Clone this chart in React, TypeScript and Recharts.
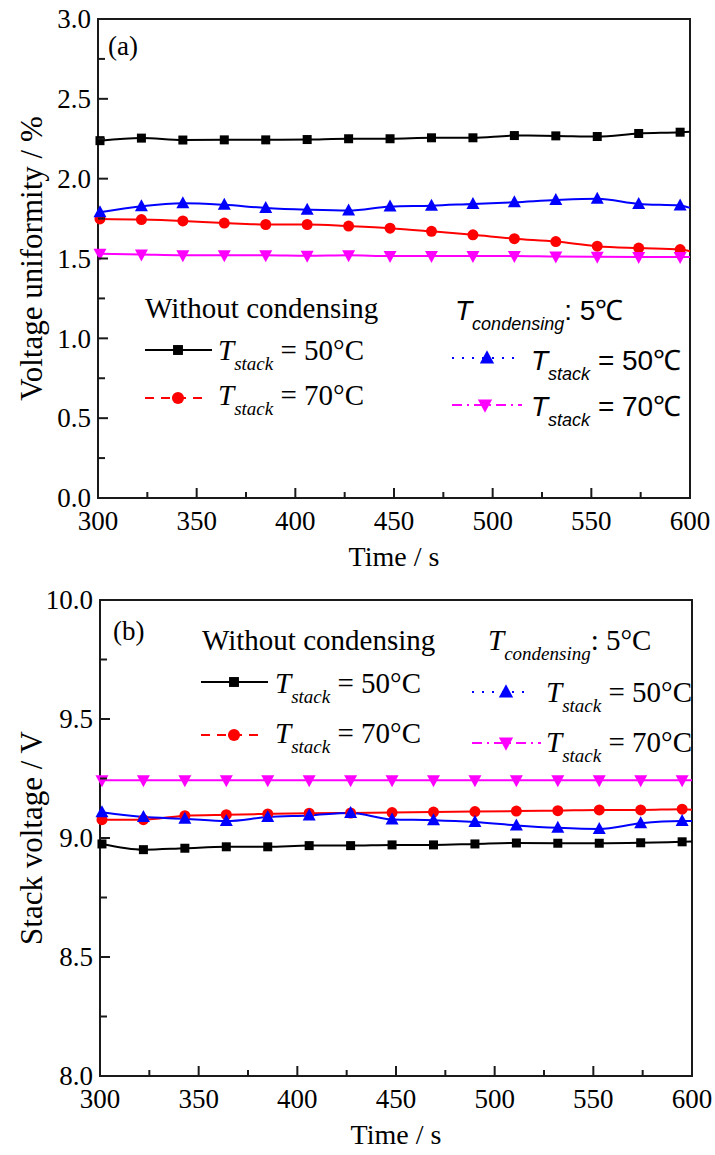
import { Legend, Line, LineChart, ReferenceArea, XAxis, YAxis } from 'recharts'

const SERIF = '"Liberation Serif", "Times New Roman", serif'
const SANS = '"Liberation Sans", Arial, sans-serif'
const AXIS = '#1a1a1a'

// sample times (s); markers sit on the first 15, the last point only carries the lines to the frame
const times = [301, 322, 343, 364, 385, 406, 427, 448, 469, 490, 511, 532, 553, 574, 595, 600]
const markedCount = 15

// (a) voltage uniformity / %
const uniformNoCond50 = [2.238, 2.254, 2.242, 2.243, 2.243, 2.245, 2.25, 2.25, 2.256, 2.256, 2.27, 2.268, 2.264, 2.283, 2.291, 2.294]
const uniformNoCond70 = [1.748, 1.744, 1.735, 1.722, 1.713, 1.713, 1.703, 1.69, 1.67, 1.648, 1.624, 1.606, 1.577, 1.565, 1.556, 1.546]
const uniformCond50 = [1.789, 1.827, 1.846, 1.836, 1.817, 1.806, 1.8, 1.825, 1.831, 1.842, 1.852, 1.866, 1.874, 1.842, 1.832, 1.817]
const uniformCond70 = [1.53, 1.525, 1.52, 1.52, 1.52, 1.517, 1.52, 1.516, 1.516, 1.515, 1.515, 1.512, 1.511, 1.51, 1.509, 1.509]

// (b) stack voltage / V
const voltageNoCond50 = [8.975, 8.951, 8.957, 8.963, 8.963, 8.968, 8.968, 8.971, 8.971, 8.975, 8.979, 8.978, 8.978, 8.98, 8.984, 8.985]
const voltageNoCond70 = [9.077, 9.077, 9.094, 9.098, 9.101, 9.104, 9.105, 9.107, 9.109, 9.111, 9.113, 9.115, 9.118, 9.118, 9.121, 9.119]
const voltageCond50 = [9.108, 9.088, 9.081, 9.071, 9.088, 9.095, 9.105, 9.078, 9.075, 9.067, 9.053, 9.043, 9.038, 9.062, 9.071, 9.071]
const voltageCond70 = [9.243, 9.243, 9.243, 9.243, 9.243, 9.243, 9.243, 9.243, 9.243, 9.243, 9.243, 9.243, 9.243, 9.243, 9.243, 9.243]

const timeTicks = [300, 325, 350, 375, 400, 425, 450, 475, 500, 525, 550, 575, 600]
const timeLabels = [300, 350, 400, 450, 500, 550, 600]
const uniformityTicks = [0, 0.25, 0.5, 0.75, 1, 1.25, 1.5, 1.75, 2, 2.25, 2.5, 2.75, 3]
const uniformityLabels = [0, 0.5, 1, 1.5, 2, 2.5, 3]
const voltageTicks = [8, 8.25, 8.5, 8.75, 9, 9.25, 9.5, 9.75, 10]
const voltageLabels = [8, 8.5, 9, 9.5, 10]

type MarkerType = 'square' | 'circle' | 'up' | 'down'

const seriesStyle: { key: string; color: string; marker: MarkerType }[] = [
  { key: 'noCond50', color: '#000000', marker: 'square' },
  { key: 'noCond70', color: '#ff0000', marker: 'circle' },
  { key: 'cond50', color: '#0000ff', marker: 'up' },
  { key: 'cond70', color: '#ff00ff', marker: 'down' },
]

const uniformityData = times.map((time, i) => ({
  time,
  noCond50: uniformNoCond50[i],
  noCond70: uniformNoCond70[i],
  cond50: uniformCond50[i],
  cond70: uniformCond70[i],
}))

const voltageData = times.map((time, i) => ({
  time,
  noCond50: voltageNoCond50[i],
  noCond70: voltageNoCond70[i],
  cond50: voltageCond50[i],
  cond70: voltageCond70[i],
}))

function Marker({ type, cx, cy, color, s = 1 }: { type: MarkerType; cx: number; cy: number; color: string; s?: number }) {
  if (type === 'square') return <rect x={cx - 4.5 * s} y={cy - 4.5 * s} width={9 * s} height={9 * s} fill={color} />
  if (type === 'circle') return <circle cx={cx} cy={cy} r={5.5 * s} fill={color} />
  if (type === 'up')
    return <polygon points={`${cx},${cy - 7 * s} ${cx + 6.5 * s},${cy + 5 * s} ${cx - 6.5 * s},${cy + 5 * s}`} fill={color} />
  return <polygon points={`${cx},${cy + 7 * s} ${cx + 6.5 * s},${cy - 5 * s} ${cx - 6.5 * s},${cy - 5 * s}`} fill={color} />
}

const dotFor = (type: MarkerType, color: string) => (props: any) => {
  const { cx, cy, index } = props
  if (index >= markedCount || cx == null || cy == null) return <g key={`dot-${index}`} />
  return (
    <g key={`dot-${index}`}>
      <Marker type={type} cx={cx} cy={cy} color={color} />
    </g>
  )
}

function XTick(props: any) {
  const { x, y, payload } = props
  const major = timeLabels.includes(payload.value)
  return (
    <g>
      <line x1={x} y1={y} x2={x} y2={y - (major ? 10 : 6)} stroke={AXIS} strokeWidth={2} />
      {major && (
        <text x={x} y={y + 32} textAnchor="middle" fontFamily={SERIF} fontSize={27} fill="#000">
          {payload.value}
        </text>
      )}
    </g>
  )
}

const makeYTick = (labels: number[]) => (props: any) => {
  const { x, y, payload } = props
  const major = labels.includes(payload.value)
  return (
    <g>
      <line x1={x} y1={y} x2={x + (major ? 10 : 7)} y2={y} stroke={AXIS} strokeWidth={2} />
      {major && (
        <text x={x - 7} y={y} dy="0.34em" textAnchor="end" fontFamily={SERIF} fontSize={27} fill="#000">
          {payload.value.toFixed(1)}
        </text>
      )}
    </g>
  )
}

function TStack({ x, y, family, rest, sub = 'stack', size = 29 }: { x: number; y: number; family: string; rest: string; sub?: string; size?: number }) {
  return (
    <text x={x} y={y} fontFamily={family} fontSize={size} fill="#000" style={{ whiteSpace: 'pre' }}>
      <tspan fontStyle="italic">T</tspan>
      <tspan fontStyle="italic" fontSize={Math.round(size * 0.66)} dy={10}>
        {sub}
      </tspan>
      <tspan dy={-10}>{rest}</tspan>
    </text>
  )
}

function Sample({ x1, x2, y, color, dash, marker, mx }: { x1: number; x2: number; y: number; color: string; dash?: string; marker: MarkerType; mx: number }) {
  return (
    <g>
      <line x1={x1} y1={y} x2={x2} y2={y} stroke={color} strokeWidth={2} strokeDasharray={dash} />
      <Marker type={marker} cx={mx} cy={y} color={color} s={1.1} />
    </g>
  )
}

function UniformityLegend() {
  return (
    <svg width={715} height={580} style={{ position: 'absolute', left: 0, top: 0, overflow: 'visible', pointerEvents: 'none' }}>
      <text x={108} y={55} fontFamily={SERIF} fontSize={27}>(a)</text>
      <text x={145} y={318} fontFamily={SERIF} fontSize={29}>Without condensing</text>
      <Sample x1={145} x2={212} y={350} color="#000000" marker="square" mx={178} />
      <TStack x={218} y={360} family={SERIF} rest=" = 50°C" />
      <Sample x1={145} x2={202} y={398} color="#ff0000" dash="9 7" marker="circle" mx={178} />
      <TStack x={218} y={405} family={SERIF} rest=" = 70°C" />
      <TStack x={455} y={320} family={SANS} size={28} sub="condensing" rest=": 5℃" />
      <Sample x1={452} x2={514} y={358} color="#0000ff" dash="2 8" marker="up" mx={487} />
      <TStack x={531} y={370} family={SANS} size={28} rest=" = 50℃" />
      <Sample x1={452} x2={522} y={405} color="#ff00ff" dash="10 5 2 5" marker="down" mx={485} />
      <TStack x={531} y={416} family={SANS} size={28} rest=" = 70℃" />
    </svg>
  )
}

function VoltageLegend() {
  return (
    <svg width={715} height={575} style={{ position: 'absolute', left: 0, top: 0, overflow: 'visible', pointerEvents: 'none' }}>
      <text x={113} y={60} fontFamily={SERIF} fontSize={27}>(b)</text>
      <text x={202} y={70} fontFamily={SERIF} fontSize={29}>Without condensing</text>
      <Sample x1={201} x2={268} y={102} color="#000000" marker="square" mx={234} />
      <TStack x={275} y={113} family={SERIF} rest=" = 50°C" />
      <Sample x1={201} x2={258} y={155} color="#ff0000" dash="9 7" marker="circle" mx={234} />
      <TStack x={275} y={163} family={SERIF} rest=" = 70°C" />
      <TStack x={488} y={70} family={SERIF} sub="condensing" rest=": 5°C" />
      <Sample x1={472} x2={531} y={112} color="#0000ff" dash="2 8" marker="up" mx={506} />
      <TStack x={546} y={122} family={SERIF} rest=" = 50°C" />
      <Sample x1={472} x2={541} y={163} color="#ff00ff" dash="10 5 2 5" marker="down" mx={506} />
      <TStack x={546} y={172} family={SERIF} rest=" = 70°C" />
    </svg>
  )
}

const yTitle = (text: string) => (props: any) => {
  const vb = props.viewBox ?? {}
  const cy = (vb.y ?? 0) + (vb.height ?? 0) / 2
  return (
    <text x={31} y={cy} transform={`rotate(-90, 31, ${cy})`} textAnchor="middle" dominantBaseline="central" fontFamily={SERIF} fontSize={31} fill="#000">
      {text}
    </text>
  )
}

const xTitle = (props: any) => {
  const vb = props.viewBox ?? {}
  const cx = (vb.x ?? 0) + (vb.width ?? 0) / 2
  return (
    <text x={cx} y={(vb.y ?? 0) + 68} textAnchor="middle" fontFamily={SERIF} fontSize={28} fill="#000">
      Time / s
    </text>
  )
}

interface PanelProps {
  data: Record<string, number>[]
  height: number
  margin: { top: number; right: number; left: number; bottom: number }
  yAxisWidth: number
  xAxisHeight: number
  yDomain: [number, number]
  yTicks: number[]
  yLabels: number[]
  yLabel: string
  legend: () => JSX.Element
}

function Panel({ data, height, margin, yAxisWidth, xAxisHeight, yDomain, yTicks, yLabels, yLabel, legend }: PanelProps) {
  return (
    <LineChart width={715} height={height} data={data} margin={margin}>
      <XAxis
        dataKey="time"
        type="number"
        domain={[300, 600]}
        ticks={timeTicks}
        interval={0}
        height={xAxisHeight}
        tickSize={0}
        tickMargin={0}
        tickLine={false}
        axisLine={{ stroke: AXIS, strokeWidth: 2 }}
        tick={XTick}
        label={xTitle}
      />
      <YAxis
        type="number"
        domain={yDomain}
        ticks={yTicks}
        interval={0}
        width={yAxisWidth}
        tickSize={0}
        tickMargin={0}
        tickLine={false}
        axisLine={{ stroke: AXIS, strokeWidth: 2 }}
        tick={makeYTick(yLabels)}
        label={yTitle(yLabel)}
      />
      <ReferenceArea x1={300} x2={600} y1={yDomain[0]} y2={yDomain[1]} fill="none" stroke={AXIS} strokeWidth={2} />
      {seriesStyle.map((s) => (
        <Line
          key={s.key}
          dataKey={s.key}
          type="monotone"
          stroke={s.color}
          strokeWidth={2}
          dot={dotFor(s.marker, s.color)}
          activeDot={false}
          isAnimationActive={false}
        />
      ))}
      <Legend content={legend} wrapperStyle={{ left: 0, top: 0, width: 0, height: 0 }} />
    </LineChart>
  )
}

export default function App() {
  return (
    <div style={{ position: 'absolute', left: 0, top: 0, width: 715, height: 1155, background: '#fff' }}>
      <Panel
        data={uniformityData}
        height={580}
        margin={{ top: 19, right: 25, left: 0, bottom: 0 }}
        yAxisWidth={98}
        xAxisHeight={82}
        yDomain={[0, 3]}
        yTicks={uniformityTicks}
        yLabels={uniformityLabels}
        yLabel="Voltage uniformity / %"
        legend={UniformityLegend}
      />
      <Panel
        data={voltageData}
        height={575}
        margin={{ top: 20, right: 23, left: 0, bottom: 0 }}
        yAxisWidth={100}
        xAxisHeight={79}
        yDomain={[8, 10]}
        yTicks={voltageTicks}
        yLabels={voltageLabels}
        yLabel="Stack voltage / V"
        legend={VoltageLegend}
      />
    </div>
  )
}
